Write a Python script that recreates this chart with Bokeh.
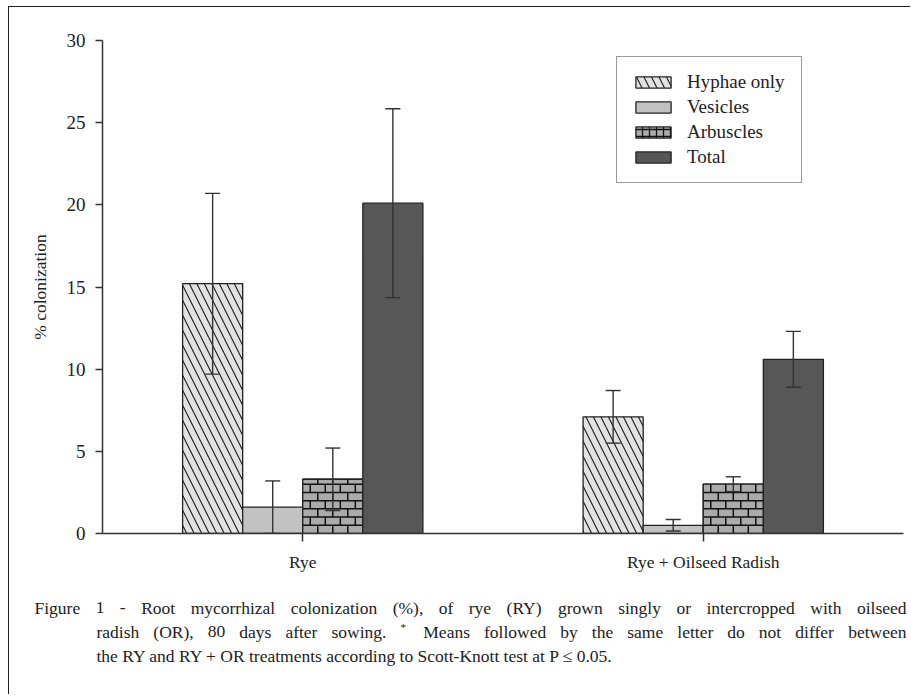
from bokeh.plotting import figure
from bokeh.models import (ColumnDataSource, Range1d, Whisker, TeeHead, Label, Legend,
                          FixedTicker)
from bokeh.embed import file_html
from bokeh.resources import INLINE

# ---------------- data ----------------
treatments = ["Rye", "Rye + Oilseed Radish"]
series = ["Hyphae only", "Vesicles", "Arbuscles", "Total"]
hyphae = [15.2, 7.1]
hyphae_err = [5.5, 1.6]
vesicles = [1.6, 0.5]
vesicles_err = [1.6, 0.35]
arbuscles = [3.3, 3.0]
arbuscles_err = [1.9, 0.45]
total = [20.1, 10.6]
total_err = [5.75, 1.7]
y_ticks = [0, 5, 10, 15, 20, 25, 30]
caption = [
    "Figure 1 - Root mycorrhizal colonization (%), of rye (RY) grown singly or intercropped with oilseed",
    "radish (OR), 80 days after sowing. * Means followed by the same letter do not differ between",
    "the RY and RY + OR treatments according to Scott-Knott test at P \u2264 0.05.",
]

FONT = "Liberation Serif"
INK = "#222222"
LINE = "#333333"

centers = [i + 0.5 for i in range(len(treatments))]

p = figure(width=902, height=578, x_range=Range1d(0, len(treatments)), y_range=Range1d(0, 30),
           output_backend="svg", toolbar_location=None,
           min_border_left=93, min_border_right=8, min_border_top=33, min_border_bottom=52)
p.outline_line_color = None
p.xgrid.grid_line_color = None
p.ygrid.grid_line_color = None
p.styles = {"margin-left": "8px", "margin-top": "6px",
            "border-left": "1px solid #222", "border-top": "1px solid #222"}

values = [hyphae, vesicles, arbuscles, total]
errors = [hyphae_err, vesicles_err, arbuscles_err, total_err]
offsets = [-0.225, -0.075, 0.075, 0.225]
BAR_W = 0.15
styles = [
    dict(fill_color="#e2e2e2", hatch_pattern="\\", hatch_color="#1a1a1a", hatch_scale=15, hatch_weight=1.1),
    dict(fill_color="#c2c2c2"),
    dict(fill_color="#ababab"),
    dict(fill_color="#575757"),
]

items = []
for name, vals, errs, off, st in zip(series, values, errors, offsets, styles):
    xs = [c + off for c in centers]
    src = ColumnDataSource(dict(
        x=xs, val=vals,
        upper=[v + e for v, e in zip(vals, errs)],
        lower=[max(v - e, 0) for v, e in zip(vals, errs)],
    ))
    if name == "Arbuscles":
        # legend proxy (hidden under the real bars) with a brick-like texture
        proxy = p.vbar(x="x", top="val", width=BAR_W, source=src, line_color="#222222",
                       line_width=1.3, fill_color="#ababab", hatch_pattern="+",
                       hatch_color="#111111", hatch_scale=7, hatch_weight=1.3)
    r = p.vbar(x="x", top="val", width=BAR_W, source=src,
               line_color="#222222", line_width=1.3, **st)
    if name == "Arbuscles":
        # brick texture drawn over the bars
        rh, bw = 0.5, BAR_W / 4
        hx0, hx1, hy, vx, vy0, vy1 = [], [], [], [], [], []
        for xc, top in zip(xs, vals):
            x0, x1 = xc - BAR_W / 2, xc + BAR_W / 2
            k = 0
            while k * rh < top - 1e-9:
                ylo, yhi = k * rh, min((k + 1) * rh, top)
                if yhi < top - 0.05:
                    hx0.append(x0); hx1.append(x1); hy.append(yhi)
                shift = 0.5 * (k % 2)
                j = 0
                while True:
                    xv = x0 + (j + shift) * bw
                    if xv >= x1 - 1e-9:
                        break
                    if xv > x0 + 1e-9:
                        vx.append(xv); vy0.append(ylo); vy1.append(yhi)
                    j += 1
                k += 1
        p.segment(x0=hx0, x1=hx1, y0=hy, y1=hy, line_color="#111111", line_width=1.5)
        p.segment(x0=vx, x1=vx, y0=vy0, y1=vy1, line_color="#111111", line_width=1.5)
        items.append((name, [proxy]))
    else:
        items.append((name, [r]))
    w = Whisker(source=src, base="x", upper="upper", lower="lower", level="annotation",
                line_color=LINE, line_width=1.4,
                upper_head=TeeHead(size=15, line_color=LINE, line_width=1.4),
                lower_head=TeeHead(size=15, line_color=LINE, line_width=1.4))
    p.add_layout(w)

legend = Legend(items=items, location=(514, 350), glyph_width=44, glyph_height=14,
                spacing=3, padding=14, label_standoff=12, label_width=100,
                label_text_font=FONT, label_text_font_size="19px", label_text_color=INK,
                border_line_color="#333333", border_line_width=1.3, background_fill_alpha=1,
                margin=0)
p.add_layout(legend)

# axes
p.yaxis.ticker = FixedTicker(ticks=y_ticks)
p.yaxis.minor_tick_line_color = None
p.yaxis.major_tick_out = 7
p.yaxis.major_tick_in = 0
p.yaxis.major_label_standoff = 10
p.yaxis.axis_label = "% colonization"
p.yaxis.axis_label_text_font = FONT
p.yaxis.axis_label_text_font_size = "17.5px"
p.yaxis.axis_label_text_font_style = "normal"
p.yaxis.axis_label_text_color = INK
p.yaxis.axis_label_standoff = 14

p.xaxis.ticker = FixedTicker(ticks=centers)
p.xaxis.major_label_overrides = {c: t for c, t in zip(centers, treatments)}
p.xaxis.minor_tick_line_color = None
p.xaxis.major_tick_out = 8
p.xaxis.major_tick_in = 0
p.xaxis.major_label_standoff = 10

for ax in (p.xaxis, p.yaxis):
    ax.axis_line_color = LINE
    ax.axis_line_width = 1.5
    ax.major_tick_line_color = LINE
    ax.major_tick_line_width = 1.5
    ax.major_label_text_font = FONT
    ax.major_label_text_font_size = "19px"
    ax.major_label_text_color = INK
p.xaxis.major_label_text_font_size = "17.5px"

# ---------------- caption (justified like the printed figure) ----------------
TIMES = {" ": 250, "a": 444, "b": 500, "c": 444, "d": 500, "e": 444, "f": 333, "g": 500,
         "h": 500, "i": 278, "j": 278, "k": 500, "l": 278, "m": 778, "n": 500, "o": 500,
         "p": 500, "q": 500, "r": 333, "s": 389, "t": 278, "u": 500, "v": 500, "w": 722,
         "x": 500, "y": 500, "z": 444, "(": 333, ")": 333, "%": 833, ",": 250, ".": 250,
         "-": 333, "*": 500, "+": 564, "\u2264": 549, "A": 722, "B": 667, "C": 667,
         "D": 722, "E": 611, "F": 556, "G": 722, "H": 722, "I": 333, "K": 722, "L": 611,
         "M": 889, "N": 722, "O": 722, "P": 556, "R": 667, "S": 556, "T": 611, "U": 722,
         "W": 944, "Y": 722}
CAP_FS = 17.5


def tw(s, fs=CAP_FS):
    return sum(TIMES.get(ch, 500) for ch in s) * fs / 1000.0


cap = figure(width=902, height=110, x_range=Range1d(0, 902), y_range=Range1d(0, 110),
             output_backend="svg", toolbar_location=None, x_axis_location=None,
             y_axis_location=None, min_border=0)
cap.outline_line_color = None
cap.grid.visible = False
cap.styles = {"margin-left": "8px", "border-left": "1px solid #222"}

cap_left = [25, 87, 87]
cap_right = 897
cap_y = [87, 63, 39]
justify = [True, True, False]
for line, lx, cy, just in zip(caption, cap_left, cap_y, justify):
    if not just:
        cap.add_layout(Label(x=lx, y=cy, x_units="screen", y_units="screen", text=line,
                             text_font=FONT, text_font_size=f"{CAP_FS}px", text_color=INK,
                             text_baseline="middle", text_align="left"))
        continue
    words = line.split(" ")
    widths = [tw(wd) for wd in words]
    gap = (cap_right - lx - sum(widths)) / (len(words) - 1)
    x = lx
    for wd, wdt in zip(words, widths):
        if wd == "*":
            cap.add_layout(Label(x=x, y=cy + 5, x_units="screen", y_units="screen", text=wd,
                                 text_font=FONT, text_font_size="11px", text_color=INK,
                                 text_baseline="middle", text_align="left"))
        else:
            cap.add_layout(Label(x=x, y=cy, x_units="screen", y_units="screen", text=wd,
                                 text_font=FONT, text_font_size=f"{CAP_FS}px", text_color=INK,
                                 text_baseline="middle", text_align="left"))
        x += wdt + gap

open("out.html", "w").write(file_html([p, cap], INLINE))
